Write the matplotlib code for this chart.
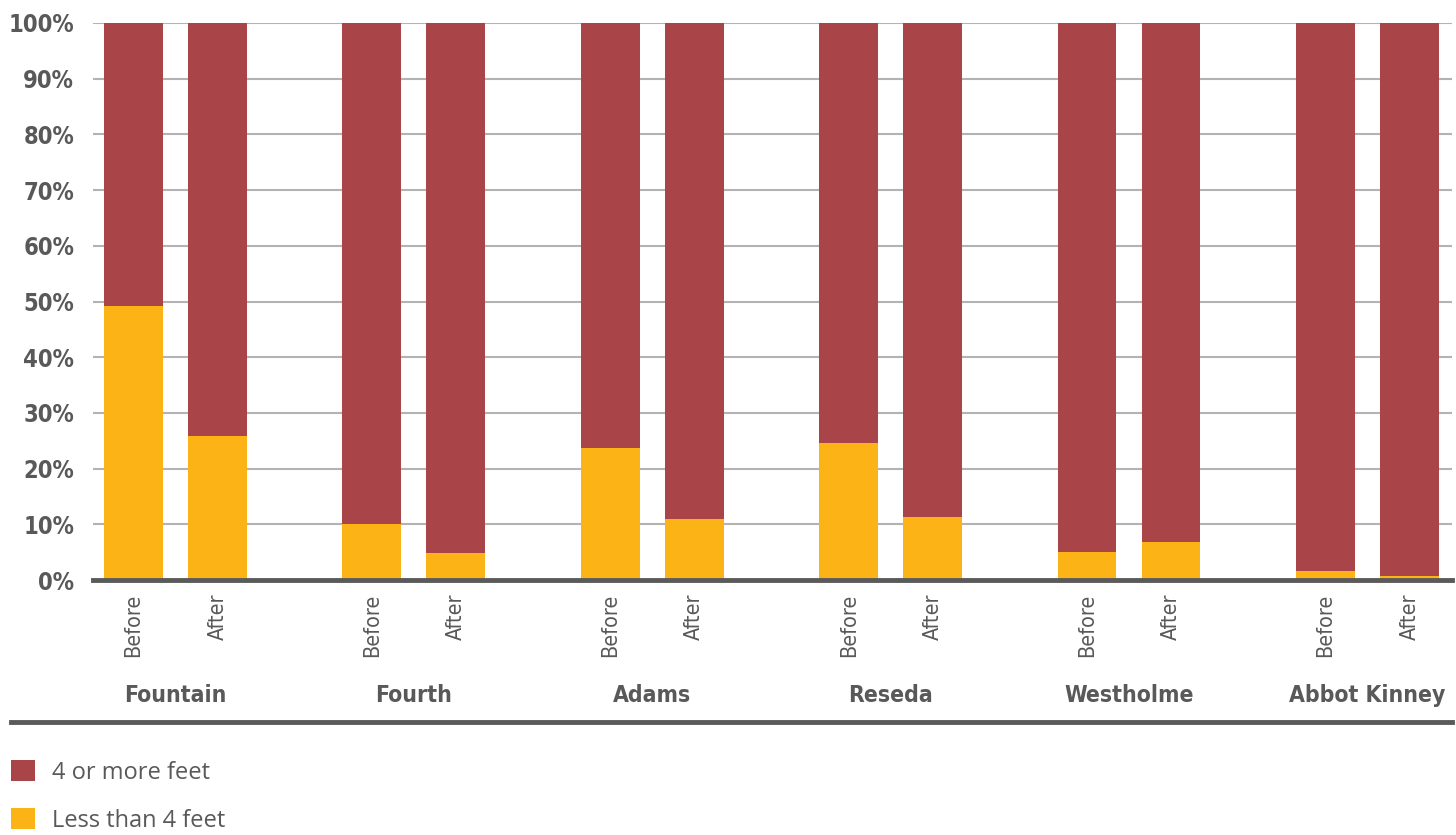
import numpy as np
import matplotlib
matplotlib.use("Agg")
import matplotlib.pyplot as plt
from matplotlib.lines import Line2D

# share of trips in each depth band, before and after, per street
streets = ["Fountain", "Fourth", "Adams", "Reseda", "Westholme", "Abbot Kinney"]
periods = ["Before", "After"]
less_than_4 = [49.2, 25.9, 10.0, 4.8, 23.7, 10.9, 24.6, 11.4, 5.1, 6.9, 1.7, 0.8]
four_or_more = [100 - v for v in less_than_4]

red = "#A94548"
yellow = "#FCB316"
txt = "#595959"
narrow = dict(family="DejaVu Sans", fontstretch="condensed")

fig = plt.figure(figsize=(14.56, 8.35), dpi=100)
ax = fig.add_axes([93/1456, 1 - 580/835, (1452 - 93)/1456, (580 - 23)/835])

# bar positions: two bars per street, wider gap between streets
group_step = 238.4 / 84
x = np.array([g * group_step + j for g in range(len(streets)) for j in range(len(periods))])

b_less = ax.bar(x, less_than_4, width=0.70, color=yellow, zorder=3)
b_more = ax.bar(x, four_or_more, bottom=less_than_4, width=0.70, color=red, zorder=3)

ax.set_xlim(x[0] - 0.482, x[-1] + 0.506)
ax.set_ylim(0, 100)
ax.set_yticks(np.arange(0, 101, 10))
ax.set_yticklabels([f"{v}%" for v in range(0, 101, 10)], fontweight="bold",
                   fontsize=17, color=txt, **narrow)
ax.yaxis.grid(True, color="#b3b3b3", linewidth=1.5, zorder=0)
ax.tick_params(axis="y", length=0, pad=13.5)

ax.set_xticks(x)
ax.set_xticklabels(periods * len(streets), rotation=90, fontsize=15.5,
                   color=txt, va="top", **narrow)
ax.tick_params(axis="x", length=0, pad=10)

for s in ["top", "right", "left"]:
    ax.spines[s].set_visible(False)
ax.spines["bottom"].set_color("#5a5a5a")
ax.spines["bottom"].set_linewidth(3.5)
ax.spines["bottom"].set_zorder(4)

# street names under each pair
trans = ax.get_xaxis_transform()
for g, name in enumerate(streets):
    cx = (x[2 * g] + x[2 * g + 1]) / 2
    ax.text(cx, -0.2065, name, transform=trans, ha="center", va="center",
            fontweight="bold", fontsize=16.5, color=txt, **narrow)

# rule below the street names
fig.add_artist(Line2D([11/1456, 1452/1456], [1 - 722/835, 1 - 722/835],
                      color="#5a5a5a", linewidth=3.5, transform=fig.transFigure))

fig.legend([b_more, b_less], ["4 or more feet", "Less than 4 feet"],
           loc="upper left", bbox_to_anchor=(11/1456, 1 - 760/835),
           frameon=False, labelcolor=txt, prop={"family": "Open Sans", "size": 17},
           handlelength=1.0, handleheight=1.0, handletextpad=0.75,
           labelspacing=1.0, borderpad=0, borderaxespad=0)

fig.savefig("out.png", dpi=100, facecolor="white")
